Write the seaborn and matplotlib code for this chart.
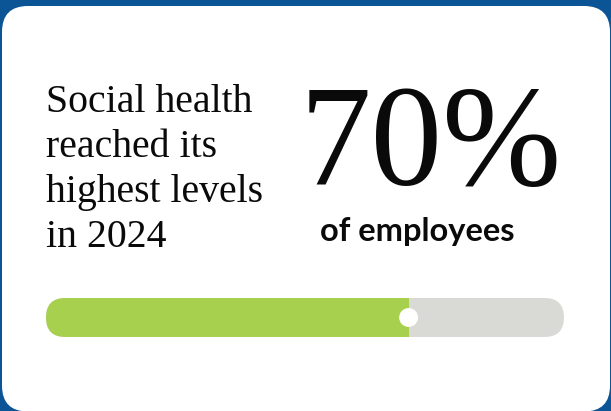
import matplotlib
matplotlib.use("Agg")
import matplotlib.pyplot as plt
import seaborn as sns
import pandas as pd
from matplotlib.patches import FancyBboxPatch

# ---- data ----
headline_lines = ["Social health", "reached its", "highest levels", "in 2024"]
share_value = 70
share_label = "70%"
share_caption = "of employees"
track_total = 100

# ---- colours ----
BG_BLUE = "#0B5597"
CARD = "#FFFFFF"
GREEN = "#A8D04F"
GREY = "#D9D9D5"
INK = "#0A0A0A"

sns.set_theme(style="white")
W, H, DPI = 6.11, 4.11, 100
fig = plt.figure(figsize=(W, H), dpi=DPI)
fig.patch.set_facecolor(BG_BLUE)

# overlay axes in pixel units
ov = fig.add_axes([0, 0, 1, 1])
ov.set_xlim(0, 611)
ov.set_ylim(411, 0)
ov.axis("off")
ov.patch.set_alpha(0)

card = FancyBboxPatch((2, 6), 608, 405.5, boxstyle="round,pad=0,rounding_size=26",
                      facecolor=CARD, edgecolor="none", mutation_aspect=1)
ov.add_patch(card)

serif = ["Liberation Serif", "DejaVu Serif"]
for i, line in enumerate(headline_lines):
    ov.text(46, 112 + i * 45, line, fontsize=28.6, family=serif, color=INK,
            va="baseline", ha="left")

ov.text(300, 185, share_label, fontsize=103, family=serif, color=INK,
        va="baseline", ha="left")
ov.text(320, 241, share_caption, fontsize=23.5, family=["Lato", "DejaVu Sans"],
        fontweight="bold", color=INK, va="baseline", ha="left")

# ---- progress bar ----
bx0, bx1, by_top, by_bot = 46, 564, 298, 337
bar_ax = fig.add_axes([bx0 / 611, 1 - by_bot / 411, (bx1 - bx0) / 611, (by_bot - by_top) / 411])
df_track = pd.DataFrame({"value": [track_total], "row": [""]})
df_fill = pd.DataFrame({"value": [share_value], "row": [""]})
sns.barplot(data=df_track, x="value", y="row", color=GREY, width=1.0,
            saturation=1, ax=bar_ax, orient="h")
sns.barplot(data=df_fill, x="value", y="row", color=GREEN, width=1.0,
            saturation=1, ax=bar_ax, orient="h")
bar_ax.set_xlim(0, track_total)
bar_ax.set_ylim(0.5, -0.5)
bar_ax.axis("off")
bar_ax.patch.set_alpha(0)

# rounded clip in inches
clip = FancyBboxPatch((bx0 / DPI, (411 - by_bot) / DPI), (bx1 - bx0) / DPI,
                      (by_bot - by_top) / DPI,
                      boxstyle="round,pad=0,rounding_size=%f" % ((by_bot - by_top) / 2 / DPI),
                      transform=fig.dpi_scale_trans, facecolor="none", edgecolor="none")
for p in bar_ax.patches:
    p.set_edgecolor("none")
    p.set_clip_path(clip)

bar_ax.scatter([share_value], [0], s=185, color="white", zorder=5, clip_on=False,
               edgecolors="none")

fig.savefig("out.png", dpi=DPI, facecolor=fig.get_facecolor())
